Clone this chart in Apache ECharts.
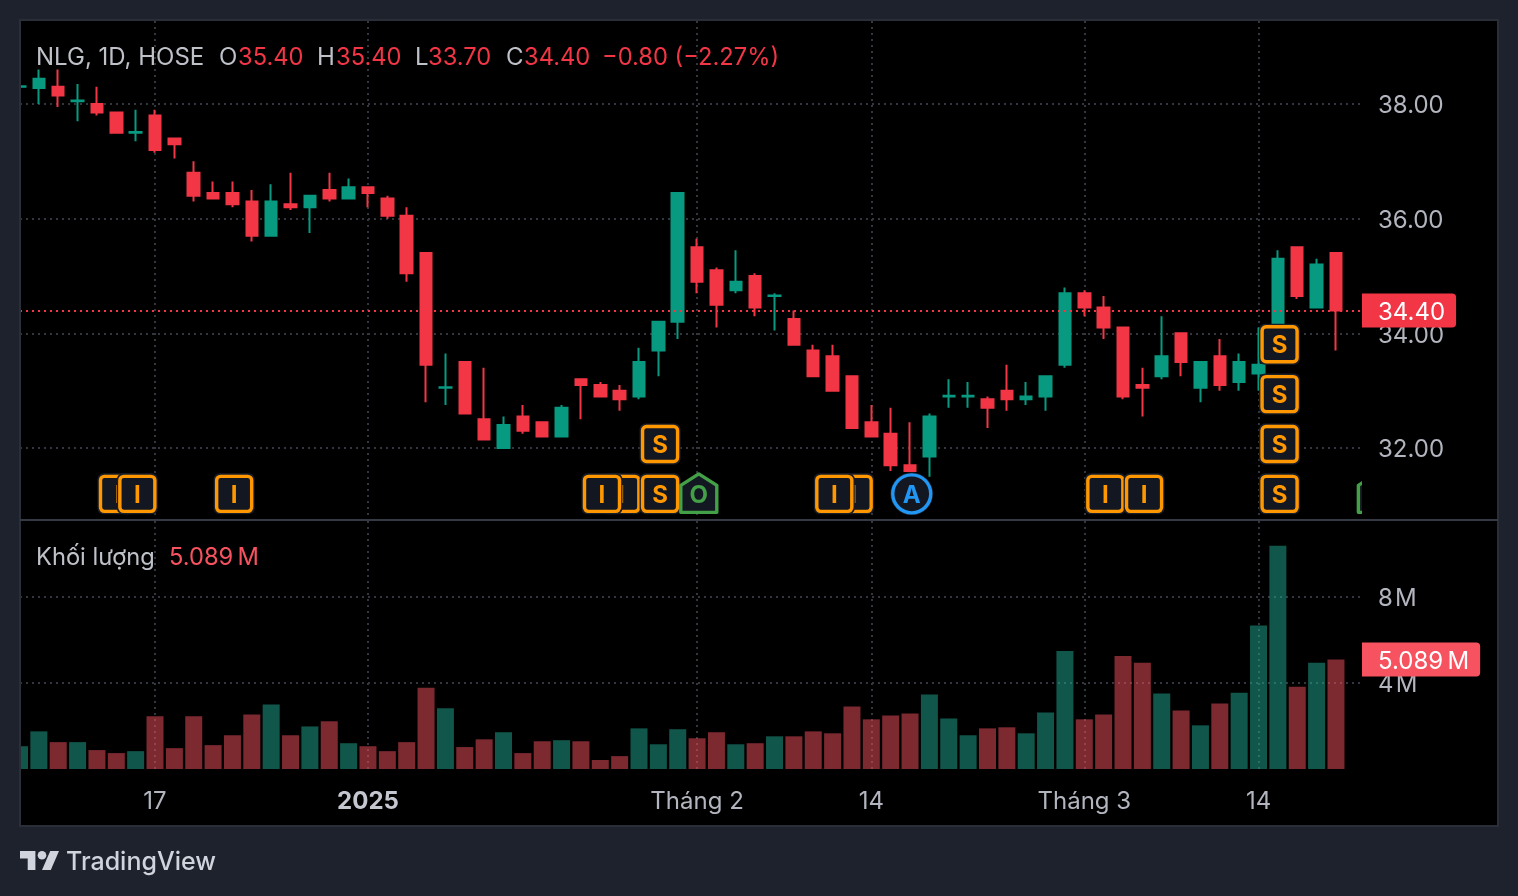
<!DOCTYPE html>
<html><head><meta charset="utf-8">
<style>html,body{margin:0;padding:0;background:#1e222d}#c{width:1518px;height:896px}</style>
<script src="https://cdn.jsdelivr.net/npm/echarts@6/dist/echarts.min.js"></script>
</head><body><div id="c"></div>
<script>
const openP  = [38.30,38.28,38.30,38.05,38.00,37.85,37.50,37.80,37.40,36.80,36.45,36.45,36.30,35.70,36.25,36.20,36.50,36.35,36.55,36.35,36.05,35.40,33.05,33.50,32.50,32.00,32.55,32.45,32.20,33.20,33.10,33.00,32.90,33.70,34.20,35.50,35.10,34.75,35.00,34.65,34.25,33.70,33.60,33.25,32.45,32.25,31.70,31.85,32.90,32.90,32.85,33.00,32.85,32.90,33.45,34.70,34.45,34.10,33.10,33.25,34.00,33.05,33.60,33.15,33.30,33.80,35.50,34.45,35.40];
const closeP = [38.31,38.44,38.15,38.06,37.85,37.50,37.51,37.20,37.30,36.40,36.35,36.25,35.70,36.30,36.20,36.40,36.35,36.55,36.45,36.05,35.05,33.45,33.06,32.60,32.15,32.40,32.30,32.20,32.70,33.10,32.90,32.85,33.50,34.20,36.45,34.90,34.50,34.90,34.45,34.66,33.80,33.25,33.00,32.35,32.20,31.70,31.60,32.55,32.91,32.91,32.70,32.85,32.90,33.25,34.70,34.45,34.10,32.90,33.05,33.60,33.50,33.50,33.10,33.50,33.45,35.30,34.65,35.20,34.40];
const lowP   = [38.30,38.00,37.95,37.70,37.80,37.50,37.35,37.15,37.05,36.30,36.35,36.20,35.60,35.70,36.15,35.75,36.30,36.35,36.20,36.00,34.90,32.80,32.75,32.60,32.15,32.00,32.25,32.20,32.20,32.50,32.90,32.65,32.85,33.25,33.90,34.70,34.10,34.70,34.30,34.05,33.80,33.25,33.00,32.35,32.20,31.60,31.60,31.50,32.70,32.70,32.35,32.65,32.75,32.65,33.40,34.30,33.90,32.85,32.55,33.20,33.25,32.80,33.00,33.00,33.00,33.80,34.60,34.45,33.70];
const highP  = [38.31,38.60,38.60,38.35,38.30,37.85,37.90,37.90,37.40,37.00,36.65,36.65,36.50,36.60,36.80,36.40,36.80,36.70,36.55,36.40,36.20,35.40,33.65,33.50,33.40,32.55,32.75,32.45,32.75,33.20,33.15,33.10,33.75,34.20,36.45,35.65,35.15,35.45,35.05,34.70,34.40,33.80,33.80,33.25,32.75,32.70,32.45,32.60,33.20,33.15,32.90,33.45,33.15,33.25,34.80,34.75,34.65,34.10,33.40,34.30,34.00,33.50,33.90,33.65,34.10,35.45,35.50,35.30,35.40];
const volumeM = [1.06,1.75,1.25,1.25,0.88,0.74,0.83,2.45,0.97,2.45,1.11,1.57,2.54,3.00,1.57,1.98,2.22,1.20,1.06,0.83,1.25,3.78,2.82,1.02,1.38,1.71,0.74,1.29,1.34,1.29,0.42,0.60,1.89,1.15,1.85,1.43,1.71,1.15,1.20,1.52,1.52,1.75,1.66,2.91,2.31,2.49,2.58,3.46,2.35,1.57,1.89,1.94,1.66,2.63,5.49,2.31,2.54,5.26,4.94,3.51,2.72,2.03,3.05,3.55,6.68,10.38,3.83,4.94,5.089];
const timeTickIdx = [7,18,35,44,55,64];
const timeTickLabels = ['17','2025','Tháng 2','14','Tháng 3','14'];
const priceTicks = [32,34,36,38];
const volumeTicks = [4,8];
const lastPrice = 34.40;
const lastVolume = 5.089;
// event markers, in drawing order: candle index, price level, letter, kind
const markerIdx    = [5,6,11,31,30,33,33,35,43,42,46,56,58,65,65,65,65,70];
const markerPrice  = [31.2,31.2,31.2,31.2,31.2,31.2,32.07,31.2,31.2,31.2,31.2,31.2,31.2,31.2,32.07,32.94,33.81,31.2];
const markerLetter = ['I','I','I','I','I','S','S','O','I','I','A','I','I','S','S','S','S','O'];
const markerKind   = ['box','box','box','box','box','box','box','home','box','box','circle','box','box','box','box','box','box','home'];

const FONT = 'Inter, "Noto Sans", sans-serif';
const RED='#f23645', GREEN='#089981', GREY='#b2b5be', TXT='#bfc1c9', GRID='#33363e';
const ORANGE='#ff9800', LIME='#43a047', BLUE='#2196f3', CHIP='#131722', PAGE='#1e222d', EDGE='#2a2e39';

const candles = openP.map((o,i)=>[i,o,closeP[i],lowP[i],highP[i]]);
const vols = volumeM.map((v,i)=>({value:[i,v],itemStyle:{color:closeP[i]>=openP[i]?'rgba(34,171,148,0.5)':'rgba(247,82,95,0.5)'}}));
const markers = markerIdx.map((x,i)=>[x,markerPrice[i],markerLetter[i],markerKind[i]]);

function fmtTime(v){const k=timeTickIdx.indexOf(v);if(k<0)return '';const s=timeTickLabels[k];return s==='2025'?'{b|'+s+'}':s;}

function renderMarker(params,api){
  const p=api.coord([api.value(0),api.value(1)]);
  const letter=markerLetter[params.dataIndex], kind=markerKind[params.dataIndex];
  const cx=p[0]+1.7, cy=p[1];
  const col = kind==='box'?ORANGE:(kind==='home'?LIME:BLUE);
  const kids=[];
  if(kind==='box'){
    kids.push({type:'rect',shape:{x:cx-20.5,y:cy-20.5,width:41,height:41,r:6},style:{fill:'#1a1e29'}});
    kids.push({type:'rect',shape:{x:cx-17.5,y:cy-17.5,width:35,height:35,r:4},style:{fill:CHIP,stroke:col,lineWidth:3.4}});
  }else if(kind==='home'){
    kids.push({type:'polygon',shape:{points:[[cx,cy-20],[cx+18,cy-8.5],[cx+18,cy+18.5],[cx-18,cy+18.5],[cx-18,cy-8.5]]},style:{fill:CHIP,stroke:col,lineWidth:3.4,lineJoin:'round'}});
  }else{
    kids.push({type:'circle',shape:{cx:cx,cy:cy,r:21.5},style:{fill:'#1a1e29'}});
    kids.push({type:'circle',shape:{cx:cx,cy:cy,r:19},style:{fill:CHIP,stroke:col,lineWidth:3.4}});
  }
  kids.push({type:'text',style:{text:letter,x:cx,y:cy+1.5,fill:col,font:'700 24px '+FONT,align:'center',verticalAlign:'middle'}});
  return {type:'group',children:kids};
}

function hdr(text,x,y,fill,size){return {type:'text',silent:true,z:50,style:{text:text,x:x,y:y,fill:fill,font:'400 '+(size||24)+'px '+FONT,verticalAlign:'middle'}};}

const tagLabel=(txt,bg)=>({position:'end',distance:0,formatter:()=>'{t|'+txt+'}',color:'#fff',fontSize:24,fontFamily:FONT,backgroundColor:bg,padding:[5,11,5,16],borderRadius:[0,4,4,0],
  rich:{t:{color:'#fff',fontSize:24,fontFamily:FONT,lineHeight:24,padding:[4,0,0,0]}}});
const tickRich={t:{color:GREY,fontSize:24,fontFamily:FONT,lineHeight:24,padding:[4,0,0,0]}};

const option={
  animation:false,
  backgroundColor:PAGE,
  textStyle:{fontFamily:FONT},
  grid:[{left:20,top:21,width:1342,height:499,show:false},{left:20,top:521,width:1342,height:248,show:false}],
  xAxis:[0,1].map(g=>({type:'value',gridIndex:g,min:0.026,max:69.345,
    axisLine:{show:false},axisTick:{show:false,customValues:timeTickIdx},
    splitLine:{show:true,lineStyle:{color:GRID,type:[2,4],width:2}},
    axisLabel:{show:g===1,customValues:timeTickIdx,formatter:fmtTime,color:GREY,fontSize:24,fontFamily:FONT,margin:21,hideOverlap:false,showMinLabel:true,showMaxLabel:true,
      rich:{b:{fontWeight:'bold',fontSize:24,color:'#c4c7d0',fontFamily:FONT}}}})),
  yAxis:[
    {type:'value',gridIndex:0,position:'right',min:30.744,max:39.448,scale:true,
     axisLine:{show:false},axisTick:{show:false,customValues:priceTicks},
     splitLine:{show:true,lineStyle:{color:GRID,type:[2,4],width:2}},
     axisLabel:{customValues:priceTicks,formatter:v=>'{t|'+v.toFixed(2)+'}',color:GREY,fontSize:24,fontFamily:FONT,margin:16,rich:tickRich}},
    {type:'value',gridIndex:1,position:'right',min:0,max:11.535,
     axisLine:{show:false},axisTick:{show:false,customValues:volumeTicks},
     splitLine:{show:true,lineStyle:{color:GRID,type:[2,4],width:2}},
     axisLabel:{customValues:volumeTicks,formatter:v=>'{t|'+v+'\u200aM}',color:GREY,fontSize:24,fontFamily:FONT,margin:16,rich:tickRich}}
  ],
  graphic:{elements:[
    {type:'rect',z:-100,silent:true,shape:{x:20,y:20,width:1478,height:806},style:{fill:'#000',stroke:EDGE,lineWidth:2}},
    {type:'rect',z:59,silent:true,shape:{x:0,y:20,width:19,height:806},style:{fill:PAGE}},
    {type:'line',z:60,silent:true,shape:{x1:20,y1:20,x2:20,y2:826},style:{stroke:EDGE,lineWidth:2}},
    {type:'line',z:60,silent:true,shape:{x1:20,y1:520,x2:1498,y2:520},style:{stroke:'#363a45',lineWidth:2}},
    hdr('NLG, 1D, HOSE',36,58,TXT), hdr('O',219,58,TXT), hdr('35.40',238,58,RED,23.7),
    hdr('H',317,58,TXT), hdr('35.40',336,58,RED,23.7), hdr('L',415,58,TXT), hdr('33.70',428,58,RED,23.7),
    hdr('C',506,58,TXT), hdr('34.40',524,58,RED,23.7), hdr('\u22120.80 (\u22122.27%)',602,58,RED,23.7),
    hdr('Khối lượng',36,558,TXT,23.7), hdr('5.089\u2009M',169,558,'#f7525f',23.7),
    {type:'polygon',silent:true,z:50,shape:{points:[[35.4,870],[27.7,870],[27.7,858.4],[20,858.4],[20,851],[35.4,851]]},style:{fill:'#d1d4dc'}},
    {type:'polygon',silent:true,z:50,shape:{points:[[50.8,870],[42,870],[50.25,851],[59,851]]},style:{fill:'#d1d4dc'}},
    {type:'circle',silent:true,z:50,shape:{cx:42,cy:855.2,r:4.3},style:{fill:'#d1d4dc'}},
    {type:'text',silent:true,z:50,style:{text:'TradingView',x:66,y:862,fill:'#d1d4dc',font:'500 25px '+FONT,verticalAlign:'middle'}}
  ]},
  series:[
    {type:'candlestick',xAxisIndex:0,yAxisIndex:0,data:candles,barWidth:12,clip:true,silent:true,
     itemStyle:{color:GREEN,color0:RED,borderColor:GREEN,borderColor0:RED,borderWidth:2},
     markLine:{silent:true,symbol:['none','none'],animation:false,data:[{yAxis:lastPrice}],
       lineStyle:{color:RED,type:[2,4],width:2},
       label:tagLabel(lastPrice.toFixed(2),RED)}},
    {type:'custom',xAxisIndex:0,yAxisIndex:0,clip:true,silent:true,z:5,data:markers,encode:{x:0,y:1},renderItem:renderMarker},
    {type:'bar',xAxisIndex:1,yAxisIndex:1,data:vols,barWidth:17,silent:true,
     markLine:{silent:true,symbol:['none','none'],animation:false,data:[{yAxis:lastVolume}],
       lineStyle:{color:'rgba(0,0,0,0)',width:0},
       label:tagLabel(lastVolume.toFixed(3)+'\u2009M','#f7525f')}}
  ]
};
const chart=echarts.init(document.getElementById('c'),null,{renderer:'canvas'});
chart.setOption(option);
</script></body></html>
